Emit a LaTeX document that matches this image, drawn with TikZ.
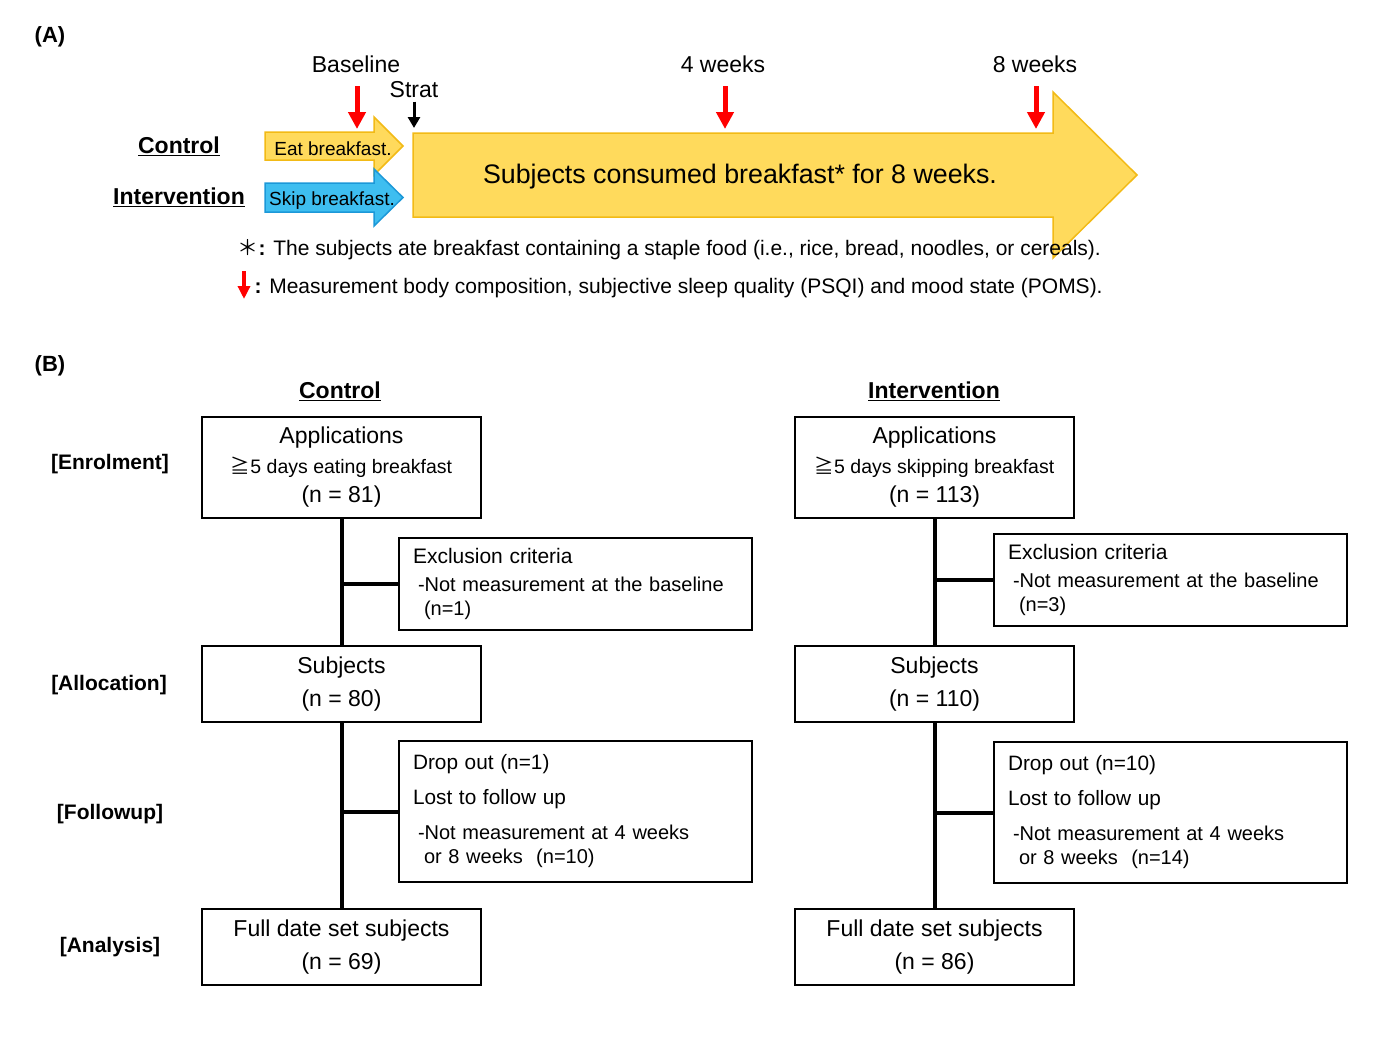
\documentclass[tikz,border=0pt]{standalone}
\usepackage{fontspec}
\setmainfont{Liberation Sans}
\newfontfamily\cjk{Noto Sans CJK JP}
\usepackage{tikz}
\usetikzlibrary{arrows.meta,positioning,calc}

\definecolor{eatfill}{RGB}{255,218,92}
\definecolor{eatline}{RGB}{242,186,22}
\definecolor{skipfill}{RGB}{62,190,240}
\definecolor{skipline}{RGB}{28,152,216}

\begin{document}
\begin{tikzpicture}[x=1pt, y=-1pt,
    panel/.style={font=\bfseries\fontsize{22}{26}\selectfont},
    group/.style={font=\bfseries\fontsize{23}{27}\selectfont},
    stage/.style={font=\bfseries\fontsize{21}{25}\selectfont},
    tick/.style={font=\fontsize{23}{27}\selectfont},
    note/.style={anchor=west, font=\fontsize{21}{25}\selectfont},
    meas/.style={draw=red, line width=5pt, -{Triangle[width=17pt,length=17pt]}},
    box/.style={rectangle, draw, line width=2pt, minimum width=279pt, align=center},
    sidebox/.style={rectangle, draw, line width=2pt, text width=325pt, inner xsep=14pt, minimum height=92pt, align=left, font=\fontsize{20}{24}\selectfont},
    link/.style={line width=4pt}]
    \useasboundingbox (0,0) rectangle (1386,1039);

    % (A) time line
    \node (pa) [panel] at (50,37) {(A)};
    \node (ctl) [group] at (179,146) {\underline{Control}};
    \node (itv) [group] at (179,197) {\underline{Intervention}};

    \filldraw [fill=eatfill, draw=eatline, line width=1.5pt]
        (265,132) -- (374,132) -- (374,117) -- (403,146) -- (374,175) -- (374,160) -- (265,160) -- cycle;
    \filldraw [fill=skipfill, draw=skipline, line width=1.5pt]
        (265,183) -- (374,183) -- (374,169) -- (403,197.5) -- (374,226) -- (374,212) -- (265,212) -- cycle;
    \filldraw [fill=eatfill, draw=eatline, line width=1.5pt]
        (413,133) -- (1053,133) -- (1053,92) -- (1137,175) -- (1053,258) -- (1053,217) -- (413,217) -- cycle;

    \node (eat) [font=\fontsize{19}{23}\selectfont] at (333,149) {Eat breakfast.};
    \node (skip) [font=\fontsize{19}{23}\selectfont] at (332,200.5) {Skip breakfast.};
    \node (main) [font=\fontsize{26.8}{30}\selectfont] at (740,176.5) {Subjects consumed breakfast* for 8 weeks.};

    \node (base) [tick] at (356,64) {Baseline};
    \node (strat) [tick] at (414,90) {Strat};
    \node (wk4) [tick] at (723,64) {4 weeks};
    \node (wk8) [tick] at (1035,64) {8 weeks};

    \coordinate (m0) at (357,129);
    \coordinate (m4) at (725,129);
    \coordinate (m8) at (1036,129);
    \coordinate (s0) at (414,128);
    \draw [meas] (m0 |- 0,86) -- (m0);
    \draw [meas] (m4 |- 0,86) -- (m4);
    \draw [meas] (m8 |- 0,86) -- (m8);
    \draw [line width=3pt, -{Triangle[width=12pt,length=11pt]}] (strat.south) -- (s0);

    \node (note1) [note] at (234,250) {{\cjk ＊}\textbf{:} The subjects ate breakfast containing a staple food (i.e., rice, bread, noodles, or cereals).};
    \node (note2) [note] at (251,288) {\textbf{:} Measurement body composition, subjective sleep quality (PSQI) and mood state (POMS).};
    \coordinate (n2) at (244,299);
    \draw [draw=red, line width=3.5pt, -{Triangle[width=12pt,length=13pt]}] (n2 |- 0,271) -- (n2);

    % (B) flow chart
    \node (pb) [panel] at (50,366) {(B)};
    \node (gc) [group] at (340,391) {\underline{Control}};
    \node (gi) [group] at (934,391) {\underline{Intervention}};

    \node (enrol) [stage] at (110,464) {[Enrolment]};
    \node (alloc) [stage] at (109,685) {[Allocation]};
    \node (follow) [stage] at (110,814) {[Followup]};
    \node (anal) [stage] at (110,947) {[Analysis]};

    % control arm
    \node (capp) [box, minimum height=101pt, font=\fontsize{23}{29.5}\selectfont] at (341.5,467.5)
        {Applications\\{\fontsize{19.5}{29.5}\selectfont{\cjk ≧}5 days eating breakfast}\\(n = 81)};
    \node (cexc) [sidebox] at (575.5,584)
        {{\fontsize{21}{24}\selectfont Exclusion criteria}\\[4pt]\hspace*{5pt}-Not measurement at the baseline\\\hspace*{11pt}(n=1)};
    \node (csub) [box, minimum height=76pt, font=\fontsize{23}{33}\selectfont] at (341.5,684)
        {Subjects\\(n = 80)};
    \node (cdrop) [sidebox, minimum height=141pt] at (575.5,811.5)
        {{\fontsize{20.8}{24}\selectfont Drop out (n=1)}\\[11pt]{\fontsize{20.8}{24}\selectfont Lost to follow up}\\[11pt]\hspace*{5pt}-Not measurement at 4 weeks\\\hspace*{11pt}or 8 weeks~~(n=10)};
    \node (cfull) [box, minimum height=76pt, font=\fontsize{23}{33}\selectfont] at (341.5,947)
        {Full date set subjects\\(n = 69)};

    \draw [link] (capp) -- (csub);
    \draw [link] (csub) -- (cfull);
    \draw [link] (cexc.west) -- (cexc.west -| capp);
    \draw [link] (cdrop.west) -- (cdrop.west -| csub);

    % intervention arm
    \node (iapp) [box, minimum height=101pt, font=\fontsize{23}{29.5}\selectfont] at (934.5,467.5)
        {Applications\\{\fontsize{19.5}{29.5}\selectfont{\cjk ≧}5 days skipping breakfast}\\(n = 113)};
    \node (iexc) [sidebox] at (1170.5,580)
        {{\fontsize{21}{24}\selectfont Exclusion criteria}\\[4pt]\hspace*{5pt}-Not measurement at the baseline\\\hspace*{11pt}(n=3)};
    \node (isub) [box, minimum height=76pt, font=\fontsize{23}{33}\selectfont] at (934.5,684)
        {Subjects\\(n = 110)};
    \node (idrop) [sidebox, minimum height=141pt] at (1170.5,812.5)
        {{\fontsize{20.8}{24}\selectfont Drop out (n=10)}\\[11pt]{\fontsize{20.8}{24}\selectfont Lost to follow up}\\[11pt]\hspace*{5pt}-Not measurement at 4 weeks\\\hspace*{11pt}or 8 weeks~~(n=14)};
    \node (ifull) [box, minimum height=76pt, font=\fontsize{23}{33}\selectfont] at (934.5,947)
        {Full date set subjects\\(n = 86)};

    \draw [link] (iapp) -- (isub);
    \draw [link] (isub) -- (ifull);
    \draw [link] (iexc.west) -- (iexc.west -| iapp);
    \draw [link] (idrop.west) -- (idrop.west -| isub);
\end{tikzpicture}
\end{document}
